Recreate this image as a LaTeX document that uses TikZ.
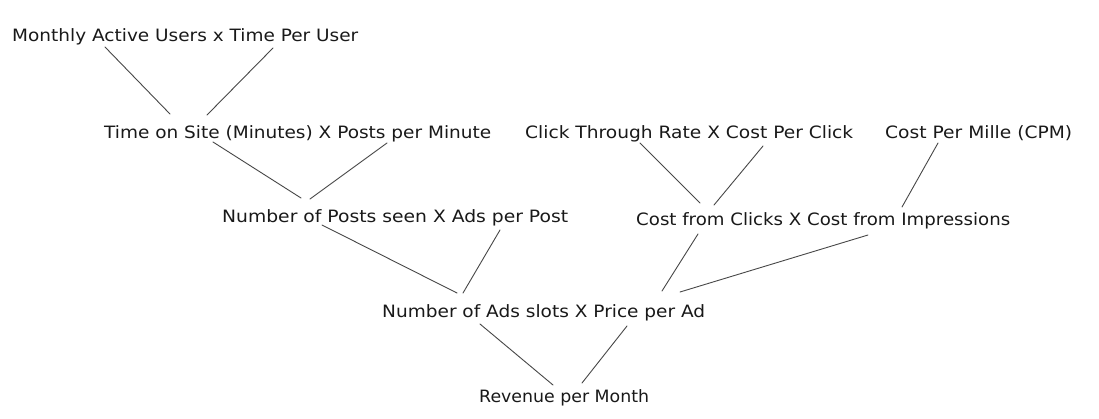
\documentclass[tikz,border=0pt]{standalone}
\usepackage{fontspec}
\setmainfont{DejaVu Sans}
\usetikzlibrary{calc}
\newcommand\fitw[2]{\resizebox{#1pt}{\height}{#2}}
\begin{document}
\begin{tikzpicture}[x=1pt,y=-1pt,
  lbl/.style={anchor=base west, inner sep=0pt, text=black!90, font=\fontsize{17}{20}\selectfont},
  link/.style={draw=black!72, line width=0.9pt, line cap=round}]
\useasboundingbox[fill=white] (0,0) rectangle (1099,418);
% nodes
\node[lbl] (mau) at (12,41)   {\fitw{346}{Monthly Active Users x Time Per User}};
\node[lbl] (tos) at (104,138) {\fitw{387}{Time on Site (Minutes) X Posts per Minute}};
\node[lbl] (ctr) at (525,138) {\fitw{328}{Click Through Rate X Cost Per Click}};
\node[lbl] (cpm) at (885,138) {\fitw{187}{Cost Per Mille (CPM)}};
\node[lbl] (nps) at (222,222) {\fitw{346}{Number of Posts seen X Ads per Post}};
\node[lbl] (cfc) at (636,225) {\fitw{374}{Cost from Clicks X Cost from Impressions}};
\node[lbl] (nas) at (382,317) {\fitw{323}{Number of Ads slots X Price per Ad}};
\node[lbl] (rev) at (479,402) {\fitw{170}{Revenue per Month}};
% connectors
\draw[link] ($(mau.base west)+(93,6)$) -- ($(tos.base west)+(66,-24)$);
\draw[link] ($(mau.base west)+(261,7)$) -- ($(tos.base west)+(103,-23)$);
\draw[link] ($(tos.base west)+(109,4)$) -- ($(nps.base west)+(79,-24)$);
\draw[link] ($(tos.base west)+(283,5)$) -- ($(nps.base west)+(88,-23)$);
\draw[link] ($(ctr.base west)+(115,5)$) -- ($(cfc.base west)+(64,-22)$);
\draw[link] ($(ctr.base west)+(238,8)$) -- ($(cfc.base west)+(78,-20)$);
\draw[link] ($(cpm.base west)+(53,5)$) -- ($(cfc.base west)+(266,-18)$);
\draw[link] ($(nps.base west)+(100,3)$) -- ($(nas.base west)+(75,-24)$);
\draw[link] ($(nps.base west)+(278,8)$) -- ($(nas.base west)+(81,-24)$);
\draw[link] ($(cfc.base west)+(62,9)$) -- ($(nas.base west)+(280,-26)$);
\draw[link] ($(cfc.base west)+(232,10)$) -- ($(nas.base west)+(298,-25)$);
\draw[link] ($(nas.base west)+(98,7)$) -- ($(rev.base west)+(74,-17)$);
\draw[link] ($(nas.base west)+(245,9)$) -- ($(rev.base west)+(103,-19)$);
\end{tikzpicture}
\end{document}
